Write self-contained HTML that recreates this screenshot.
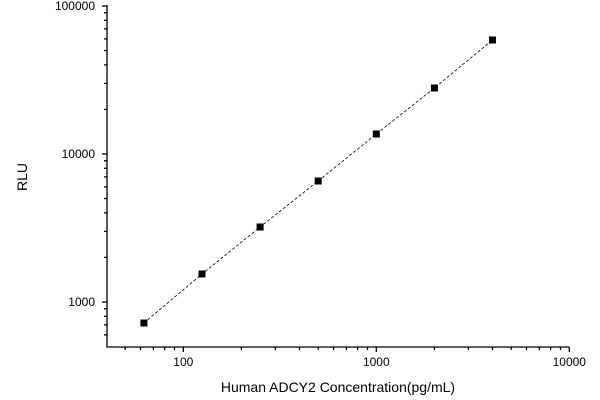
<!DOCTYPE html>
<html><head><style>body{margin:0;background:#fff}svg{display:block}</style></head><body>
<svg width="600" height="400" xmlns="http://www.w3.org/2000/svg" font-family="Liberation Sans, sans-serif">
<g stroke="#000" stroke-width="1.3" fill="none">
<path d="M107 5V347H569.3"/>
<path d="M183.3 347v5M376.3 347v5M569.3 347v5"/>
<path d="M125.2 347v3M140.5 347v3M153.4 347v3M164.6 347v3M174.5 347v3M241.4 347v3M275.4 347v3M299.5 347v3M318.2 347v3M333.5 347v3M346.4 347v3M357.6 347v3M367.5 347v3M434.4 347v3M468.4 347v3M492.5 347v3M511.2 347v3M526.5 347v3M539.4 347v3M550.6 347v3M560.5 347v3"/>
<path d="M102 302h5M102 154h5M102 6h5"/>
<path d="M104 334.8h3M104 324.9h3M104 316.3h3M104 308.8h3M104 257.4h3M104 231.4h3M104 212.9h3M104 198.5h3M104 186.9h3M104 176.9h3M104 168.3h3M104 160.8h3M104 109.4h3M104 83.4h3M104 64.9h3M104 50.5h3M104 38.9h3M104 28.9h3M104 20.3h3M104 12.8h3"/>
</g>
<polyline points="143.9,323 202,274 260.1,227 318.2,181 376.3,134 434.4,88 492.5,40" fill="none" stroke="#000" stroke-width="0.8" stroke-dasharray="3,2"/>
<g fill="#000">
<rect x="140.4" y="319.5" width="7" height="7"/>
<rect x="198.5" y="270.5" width="7" height="7"/>
<rect x="256.6" y="223.5" width="7" height="7"/>
<rect x="314.7" y="177.5" width="7" height="7"/>
<rect x="372.8" y="130.5" width="7" height="7"/>
<rect x="430.9" y="84.5" width="7" height="7"/>
<rect x="489" y="36.5" width="7" height="7"/>
</g>
<g font-size="12" fill="#000">
<text x="183.3" y="366" text-anchor="middle">100</text>
<text x="376.3" y="366" text-anchor="middle">1000</text>
<text x="569.3" y="366" text-anchor="middle">10000</text>
<text x="95" y="306" text-anchor="end">1000</text>
<text x="95" y="158" text-anchor="end">10000</text>
<text x="95" y="10" text-anchor="end">100000</text>
</g>
<text x="338" y="392" text-anchor="middle" font-size="14">Human ADCY2 Concentration(pg/mL)</text>
<text transform="translate(27,177) rotate(-90)" text-anchor="middle" font-size="14">RLU</text>
</svg>
</body></html>
